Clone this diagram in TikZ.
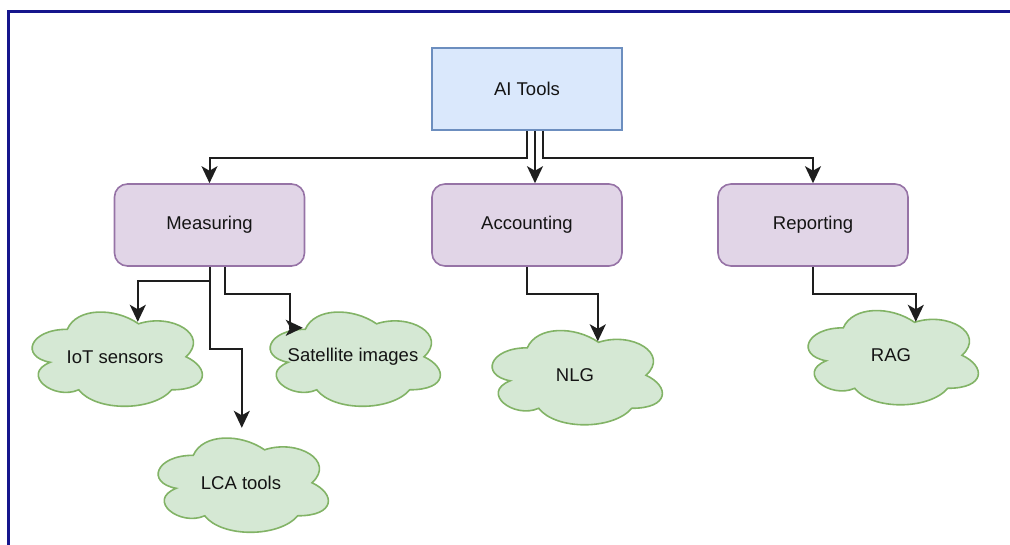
\documentclass[tikz,border=0pt]{standalone}
\usepackage{fontspec}
\setmainfont{Liberation Sans}
\usetikzlibrary{arrows.meta,backgrounds,calc}

\definecolor{blueFill}{HTML}{DAE8FC}
\definecolor{blueLine}{HTML}{6C8EBF}
\definecolor{purpleFill}{HTML}{E1D5E7}
\definecolor{purpleLine}{HTML}{9673A6}
\definecolor{greenFill}{HTML}{D5E8D4}
\definecolor{greenLine}{HTML}{82B366}
\definecolor{frameBlue}{RGB}{22,22,140}
\definecolor{wireGray}{HTML}{1E1E1E}

\tikzset{
  label text/.style={font=\fontsize{18.5}{22}\selectfont, text=black!92},
  toolbox/.style={label text, draw=blueLine, fill=blueFill, line width=1.6pt,
    minimum width=190pt, minimum height=82pt, inner sep=0pt},
  catbox/.style={label text, draw=purpleLine, fill=purpleFill, line width=1.6pt,
    rounded corners=13pt, minimum width=190pt, minimum height=82pt, inner sep=0pt},
  cloudnode/.style={label text, minimum width=190pt, minimum height=110pt, inner sep=0pt},
  cloudline/.style={draw=greenLine, fill=greenFill, line width=1.6pt},
  conn/.style={draw=wireGray, line width=2pt,
    -{Stealth[length=17pt,width=16pt,inset=4.5pt]}},
  framestroke/.style={draw=frameBlue, line width=2.8pt}
}

\begin{document}
\begin{tikzpicture}[x=1pt,y=-1pt]
  \useasboundingbox (0,0) rectangle (1010,545);

  % outer frame (left and top edges)
  \draw[framestroke] (8.7,546) -- (8.7,11.3) -- (1011,11.3);

  % boxes
  \node[toolbox] (ai)   at (527,89)    {AI Tools};
  \node[catbox]  (meas) at (209.5,225) {Measuring};
  \node[catbox]  (acct) at (527,225)   {Accounting};
  \node[catbox]  (rep)  at (813,225)   {Reporting};

  % cloud labels
  \node[cloudnode] (iot) at (115,357)   {IoT sensors};
  \node[cloudnode] (sat) at (353,357)   {Satellite images};
  \node[cloudnode] (lca) at (241,483)   {LCA tools};
  \node[cloudnode] (nlg) at (575,375.5) {NLG};
  \node[cloudnode] (rag) at (891,355.5) {RAG};

  % cloud outlines behind the labels
  \begin{pgfonlayer}{background}
    \foreach \c in {iot,sat,lca,nlg,rag}{
      \begin{scope}[shift={(\c.north west)}, x=190pt, y=-110pt]
        \path[cloudline] (0.25,0.25)
          .. controls (0.05,0.25) and (0,0.5) .. (0.16,0.55)
          .. controls (0,0.66) and (0.18,0.9) .. (0.31,0.8)
          .. controls (0.4,1) and (0.7,1) .. (0.8,0.8)
          .. controls (1,0.8) and (1,0.6) .. (0.875,0.5)
          .. controls (1,0.3) and (0.8,0.1) .. (0.625,0.2)
          .. controls (0.5,0.05) and (0.3,0.05) .. (0.25,0.25) -- cycle;
      \end{scope}
    }
  \end{pgfonlayer}

  % AI Tools to the three categories
  \draw[conn] (ai.south) -- ++(0,27) -| (meas.north);
  \draw[conn] ([xshift=8pt]ai.south) -- ([xshift=8pt]acct.north);
  \draw[conn] ([xshift=16pt]ai.south) -- ++(0,27) -| (rep.north);

  % Measuring to its tools
  \draw[conn] (meas.south) -- ++(0,14) -| ([shift={(118,20)}]iot.north west);
  \draw[conn] (meas.south) -- ++(0,82) -| ([shift={(96,0)}]lca.north west);
  \draw[conn] ([xshift=15pt]meas.south) -- ++(0,27) -- ++(65,0)
              |- ([shift={(45,26)}]sat.north west);

  % Accounting and Reporting
  \draw[conn] (acct.south) -- ++(0,27) -| ([shift={(118,21)}]nlg.north west);
  \draw[conn] (rep.south) -- ++(0,27) -| ([shift={(120,21.5)}]rag.north west);
\end{tikzpicture}
\end{document}
